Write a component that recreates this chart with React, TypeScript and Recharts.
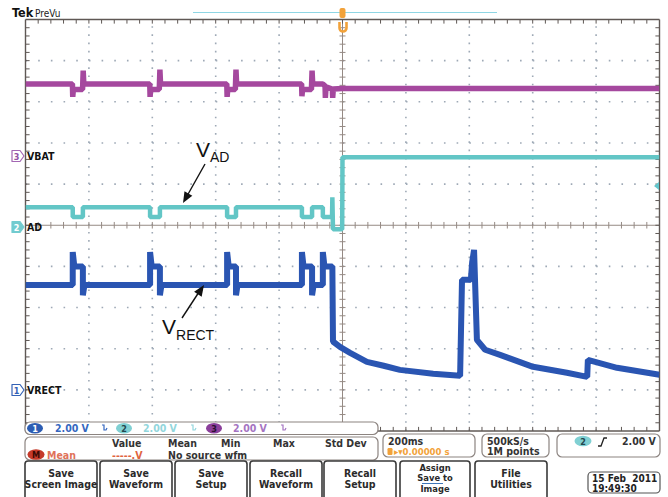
import React from "react";
import { LineChart, Line, XAxis, YAxis, ReferenceLine } from "recharts";

// Traces: [time in ms, volts]. 200 ms/div, trigger at t = 0.
const vrectTrace: [number, number][] = [
  [-1000, 5.1], [-851, 5.1], [-851, 6.7], [-846, 6.0], [-819, 6.0], [-819, 4.6], [-814, 5.1],
  [-607, 5.1], [-607, 6.7], [-602, 6.0], [-576, 6.0], [-576, 4.6], [-571, 5.1],
  [-364, 5.1], [-364, 6.7], [-359, 6.0], [-336, 6.0], [-336, 4.6], [-331, 5.1],
  [-128, 5.1], [-128, 6.7], [-123, 6.0], [-96, 6.0], [-96, 4.6], [-91, 5.1],
  [-62, 5.1], [-62, 6.7], [-57, 6.0], [-32, 6.0], [-30, 2.35], [-8, 2.09], [24, 1.8],
  [77, 1.36], [130, 1.17], [181, 0.97], [286, 0.78], [371, 0.68], [377, 5.35], [405, 5.35],
  [409, 6.2], [415, 6.8], [424, 2.43], [450, 1.95], [497, 1.7], [601, 1.12], [708, 0.83],
  [772, 0.63], [774, 1.46], [866, 1.07], [1000, 0.73],
];

const adTrace: [number, number][] = [
  [-1000, 1.02], [-851, 1.02], [-851, 0.54], [-819, 0.54], [-819, 1.02],
  [-607, 1.02], [-607, 0.54], [-576, 0.54], [-576, 1.02],
  [-364, 1.02], [-364, 0.54], [-336, 0.54], [-336, 1.02],
  [-128, 1.02], [-128, 0.54], [-96, 0.54], [-96, 1.02],
  [-62, 1.02], [-62, 0.54], [-33, 0.54], [-32, 1.5], [-30, -0.05], [-1, -0.05],
  [0, 3.45], [1000, 3.45],
];

const vbatTrace: [number, number][] = [
  [-1000, 3.55], [-852, 3.55], [-851, 2.92], [-849, 3.28], [-820, 3.28], [-818, 4.2], [-816, 3.55],
  [-608, 3.55], [-607, 2.92], [-605, 3.28], [-578, 3.28], [-576, 4.25], [-574, 3.55],
  [-365, 3.55], [-364, 2.92], [-362, 3.28], [-338, 3.28], [-336, 4.25], [-334, 3.55],
  [-129, 3.55], [-128, 2.95], [-126, 3.28], [-98, 3.28], [-96, 4.2], [-94, 3.55],
  [-62, 3.55], [-55, 3.45], [-54, 2.87], [-52, 3.4], [-32, 3.3], [-31, 2.87], [-29, 3.3],
  [0, 3.33], [1000, 3.33],
];

// channel settings: volts/div and the ground marker position in divisions from centre
const ch1 = { vPerDiv: 2, offsetDiv: -4.0 };
const ch2 = { vPerDiv: 2, offsetDiv: -0.07 };
const ch3 = { vPerDiv: 2, offsetDiv: 1.66 };

const timeDivs = [-1000, -800, -600, -400, -200, 0, 200, 400, 600, 800, 1000];
const voltDivs = [-5, -4, -3, -2, -1, 0, 1, 2, 3, 4, 5];

const measureHeaders = ["Value", "Mean", "Min", "Max", "Std Dev"];
const buttonLabels = [
  ["Save", "Screen Image"],
  ["Save", "Waveform"],
  ["Save", "Setup"],
  ["Recall", "Waveform"],
  ["Recall", "Setup"],
  ["Assign", "Save to", "Image"],
  ["File", "Utilities"],
];

const toPoints = (trace: [number, number][]) => trace.map(([t, v]) => ({ t, v }));
const chDomain = (c: { vPerDiv: number; offsetDiv: number }) => [
  (-5 - c.offsetDiv) * c.vPerDiv,
  (5 - c.offsetDiv) * c.vPerDiv,
];

const UI_FONT = "'DejaVu Sans Condensed', 'DejaVu Sans', sans-serif";
const GRID = "#9ea9b6";
const BORDER = "#5f5855";
const CENTER = "#958a84";

function graticule() {
  const out: React.ReactNode[] = [];
  const g = { xAxisId: "t", yAxisId: "div", ifOverflow: "visible" as const };
  timeDivs.slice(1, -1).forEach((t) => {
    if (t !== 0)
      out.push(<ReferenceLine key={"gx" + t} {...g} x={t} stroke={GRID} strokeWidth={1.6} strokeDasharray="1.6 6.63" />);
  });
  voltDivs.slice(1, -1).forEach((d) => {
    if (d !== 0)
      out.push(<ReferenceLine key={"gy" + d} {...g} y={d} stroke={GRID} strokeWidth={1.6} strokeDasharray="1.6 11.08" />);
  });
  out.push(<ReferenceLine key="cx" {...g} x={0} stroke={CENTER} strokeWidth={1} />);
  out.push(<ReferenceLine key="cy" {...g} y={0} stroke={CENTER} strokeWidth={1} />);
  // minor ticks every 1/5 division
  for (let i = 1; i < 50; i++) {
    const t = -1000 + i * 40;
    out.push(<ReferenceLine key={"tt" + i} {...g} segment={[{ x: t, y: 5 }, { x: t, y: 4.9 }]} stroke={BORDER} />);
    out.push(<ReferenceLine key={"tb" + i} {...g} segment={[{ x: t, y: -5 }, { x: t, y: -4.9 }]} stroke={BORDER} />);
    out.push(<ReferenceLine key={"tc" + i} {...g} segment={[{ x: t, y: -0.08 }, { x: t, y: 0.08 }]} stroke={CENTER} />);
    const d = -5 + i * 0.2;
    out.push(<ReferenceLine key={"tl" + i} {...g} segment={[{ x: -1000, y: d }, { x: -987, y: d }]} stroke={BORDER} />);
    out.push(<ReferenceLine key={"tr" + i} {...g} segment={[{ x: 1000, y: d }, { x: 987, y: d }]} stroke={BORDER} />);
    out.push(<ReferenceLine key={"tm" + i} {...g} segment={[{ x: -9.5, y: d }, { x: 9.5, y: d }]} stroke={CENTER} />);
  }
  [-1000, 1000].forEach((t) =>
    out.push(<ReferenceLine key={"bx" + t} {...g} x={t} stroke={BORDER} strokeWidth={1.4} />)
  );
  [-5, 5].forEach((d) =>
    out.push(<ReferenceLine key={"by" + d} {...g} y={d} stroke={BORDER} strokeWidth={1.4} />)
  );
  return out;
}

function arrowHead(sx: number, sy: number, tx: number, ty: number, len = 11, w = 4.5) {
  const dx = tx - sx, dy = ty - sy;
  const l = Math.hypot(dx, dy);
  const ux = dx / l, uy = dy / l;
  const bx = tx - ux * len, by = ty - uy * len;
  return `M${tx},${ty} L${bx - uy * w},${by + ux * w} L${bx + uy * w},${by - ux * w} Z`;
}

function ChannelTag({ y, n, fill, stroke, text }: { y: number; n: string; fill: string; stroke: string; text: string }) {
  return (
    <g>
      <path d={`M12,${y - 5.5} h8 l4,5.5 l-4,5.5 h-8 z`} fill={fill} stroke={stroke} strokeWidth={1.2} strokeLinejoin="round" />
      <text x={16.5} y={y + 3.5} fontSize={9} fontFamily={UI_FONT} fontWeight="bold" fill={text} textAnchor="middle">{n}</text>
    </g>
  );
}

function Overlay() {
  const box = { fill: "#fff", stroke: "#8c8480", strokeWidth: 1.2 };
  const txt = { fontFamily: UI_FONT, fontSize: 10.5, fontWeight: "bold" as const };
  return (
    <svg width={668} height={497} style={{ position: "absolute", left: 0, top: 0, pointerEvents: "none" }}>
      {/* header */}
      <text x={12} y={17} fontFamily={UI_FONT} fontWeight="bold" fontSize={12.5} fill="#111">Tek</text>
      <text x={35} y={17} fontFamily={UI_FONT} fontSize={10} fill="#222">PreVu</text>
      <line x1={193} x2={497} y1={12.5} y2={12.5} stroke="#8fd6e4" strokeWidth={1.2} />
      <rect x={339.5} y={8} width={6} height={10} rx={2} fill="#f2a23a" />
      <path d="M339.5,22 v6 a3.5,3.5 0 0 0 7,0 v-6" fill="none" stroke="#f2a23a" strokeWidth={2.6} />
      {/* trigger level */}
      <path d="M654,186 l5,-4 v8 z" fill="#62c6cc" />

      {/* channel labels */}
      <ChannelTag y={156} n="3" fill="#fff" stroke="#a366b3" text="#9450a4" />
      <text x={27} y={160} {...txt} fill="#111">VBAT</text>
      <ChannelTag y={227} n="2" fill="#72cbcf" stroke="#72cbcf" text="#fff" />
      <text x={27} y={231} {...txt} fill="#111">AD</text>
      <ChannelTag y={390} n="1" fill="#fff" stroke="#3462b6" text="#3462b6" />
      <text x={27} y={394} {...txt} fill="#111">VRECT</text>

      {/* annotations */}
      <text x={196} y={157} fontFamily="'Liberation Sans', Arial, sans-serif" fontSize={21} fill="#111">
        V<tspan fontSize={14} dy={5}>AD</tspan>
      </text>
      <line x1={205} y1={164} x2={187} y2={196} stroke="#111" strokeWidth={1.4} />
      <path d={arrowHead(205, 164, 183, 203)} fill="#111" />
      <text x={162} y={334} fontFamily="'Liberation Sans', Arial, sans-serif" fontSize={21} fill="#111">
        V<tspan fontSize={14} dy={6}>RECT</tspan>
      </text>
      <line x1={182} y1={318} x2={199} y2={292} stroke="#111" strokeWidth={1.4} />
      <path d={arrowHead(182, 318, 204, 285)} fill="#111" />

      {/* channel readout bar */}
      <rect x={25} y={422} width={353} height={12.5} rx={5} {...box} />
      <ellipse cx={35} cy={428.3} rx={8} ry={5.2} fill="#2c5db3" />
      <text x={35} y={431.8} {...txt} fontSize={9} fill="#fff" textAnchor="middle">1</text>
      <text x={55} y={432} {...txt} fill="#3567c0">2.00 V</text>
      <path d="M102,425 h2 v5 h2 l1,-2" fill="none" stroke="#3567c0" strokeWidth={1.2} />
      <ellipse cx={124} cy={428.3} rx={8} ry={5.2} fill="#80d0d3" />
      <text x={124} y={431.8} {...txt} fontSize={9} fill="#24464c" textAnchor="middle">2</text>
      <text x={143} y={432} {...txt} fill="#92d6dc">2.00 V</text>
      <path d="M191,425 h2 v5 h2 l1,-2" fill="none" stroke="#92d6dc" strokeWidth={1.2} />
      <ellipse cx={214} cy={428.3} rx={8} ry={5.2} fill="#8b3f9b" />
      <text x={214} y={431.8} {...txt} fontSize={9} fill="#2a1030" textAnchor="middle">3</text>
      <text x={233} y={432} {...txt} fill="#a574c2">2.00 V</text>
      <path d="M281,425 h2 v5 h2 l1,-2" fill="none" stroke="#a574c2" strokeWidth={1.2} />

      {/* measurement box */}
      <rect x={25} y={437} width={353} height={23} rx={5} {...box} />
      {measureHeaders.map((h, i) => (
        <text key={h} x={[112, 168, 221, 273, 325][i]} y={447} {...txt} fill="#333">{h}</text>
      ))}
      <ellipse cx={36} cy={454.5} rx={8.5} ry={5.3} fill="#c53a2a" />
      <text x={36} y={458} {...txt} fontSize={9} fill="#3a0a05" textAnchor="middle">M</text>
      <text x={47} y={458.5} {...txt} fill="#e0735a">Mean</text>
      <text x={112} y={458.5} {...txt} fill="#e0643f">-----.V</text>
      <text x={168} y={458.5} {...txt} fill="#333">No source wfm</text>

      {/* timebase / sample / trigger boxes */}
      <rect x={383} y={434} width={92} height={23} rx={5} {...box} />
      <text x={388} y={444.5} {...txt} fill="#333">200ms</text>
      <rect x={387.5} y={448} width={5} height={7} rx={1.2} fill="#f2a23a" />
      <text x={394} y={455} {...txt} fontSize={9.5} fill="#f2a23a">▸▾0.00000 s</text>
      <rect x={482} y={434} width={67} height={23} rx={5} {...box} />
      <text x={487} y={444.5} {...txt} fill="#333">500kS/s</text>
      <text x={487} y={455} {...txt} fill="#333">1M points</text>
      <rect x={557} y={434} width={103} height={23} rx={5} {...box} />
      <ellipse cx={583} cy={441} rx={8.5} ry={5.3} fill="#80d0d3" />
      <text x={583} y={444.5} {...txt} fontSize={9} fill="#24464c" textAnchor="middle">2</text>
      <path d="M598,446 h3 l3,-8 h3" fill="none" stroke="#222" strokeWidth={1.3} />
      <text x={622} y={444.5} {...txt} fill="#333">2.00 V</text>

      {/* soft-key buttons */}
      {buttonLabels.map((lines, i) => {
        const x = [25, 100, 175, 250, 324, 400, 475][i];
        const w = i === 5 ? 70 : 72;
        const three = lines.length === 3;
        const y0 = three ? 470.5 : 477;
        const step = three ? 10.8 : 11;
        return (
          <g key={i}>
            <rect x={x} y={461} width={w} height={42} rx={3} fill="#fff" stroke="#3a3a3a" strokeWidth={1.6} />
            {lines.map((l, j) => (
              <text key={j} x={x + w / 2} y={y0 + j * step} {...txt} fontSize={three ? 9.3 : 10.5} fill="#2a2a2a" textAnchor="middle">
                {l}
              </text>
            ))}
          </g>
        );
      })}
      <line x1={422} x2={443} y1={483.5} y2={483.5} stroke="#3f77b8" strokeWidth={1} />

      {/* date */}
      <rect x={588} y={472} width={72} height={21} rx={4} fill="#fff" stroke="#555" strokeWidth={1.2} />
      <text x={592} y={481.5} {...txt} fontSize={10} fill="#222" xmlSpace="preserve">15 Feb  2011</text>
      <text x={592} y={491.5} {...txt} fontSize={10} fill="#222">19:49:30</text>
    </svg>
  );
}

export default function App() {
  return (
    <div style={{ position: "absolute", left: 0, top: 0, width: 668, height: 497, background: "#fff", overflow: "hidden" }}>
      <LineChart width={668} height={497} margin={{ top: 19.5, right: 8.5, bottom: 66, left: 25.5 }}>
        <XAxis xAxisId="t" type="number" dataKey="t" domain={[-1000, 1000]} hide allowDataOverflow />
        <YAxis yAxisId="div" type="number" domain={[-5, 5]} hide allowDataOverflow />
        <YAxis yAxisId="ch1" type="number" domain={chDomain(ch1)} hide allowDataOverflow />
        <YAxis yAxisId="ch2" type="number" domain={chDomain(ch2)} hide allowDataOverflow />
        <YAxis yAxisId="ch3" type="number" domain={chDomain(ch3)} hide allowDataOverflow />
        {graticule()}
        <Line xAxisId="t" yAxisId="ch3" data={toPoints(vbatTrace)} dataKey="v" type="linear" dot={false}
          stroke="#a5489e" strokeWidth={5.5} strokeLinejoin="bevel" isAnimationActive={false} />
        <Line xAxisId="t" yAxisId="ch2" data={toPoints(adTrace)} dataKey="v" type="linear" dot={false}
          stroke="#63c6c6" strokeWidth={4.5} strokeLinejoin="bevel" isAnimationActive={false} />
        <Line xAxisId="t" yAxisId="ch1" data={toPoints(vrectTrace)} dataKey="v" type="linear" dot={false}
          stroke="#2a55b2" strokeWidth={6} strokeLinejoin="bevel" isAnimationActive={false} />
      </LineChart>
      <Overlay />
    </div>
  );
}
